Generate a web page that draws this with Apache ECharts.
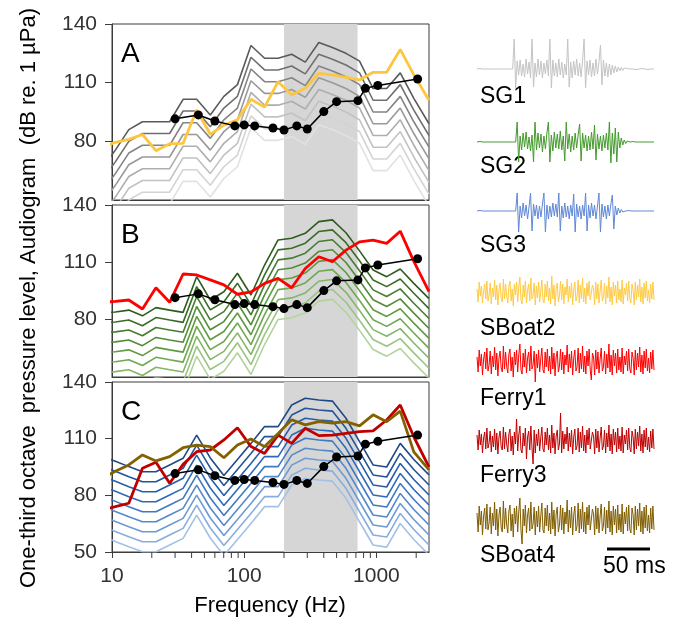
<!DOCTYPE html>
<html><head><meta charset="utf-8">
<script src="https://cdn.jsdelivr.net/npm/echarts@6/dist/echarts.min.js"></script>
<style>html,body{margin:0;padding:0;background:#fff}#c{width:673px;height:629px}</style>
</head><body><div id="c"></div>
<script>
// ---------- DATA ----------
const spectrumFreqs = [8.4, 10.6, 13.4, 17.0, 21.5, 27.3, 34.5, 43.7, 55.4, 70.2, 88.9, 112.5, 142.6, 180.5, 228.7, 289.7, 366.7, 464.7, 588.6, 745.6, 944, 1196, 1515, 1919, 2500];
const audiogramFreqs = [30, 45, 60, 85, 100, 120, 165, 200, 250, 300, 400, 500, 725, 825, 1025, 2050];
const audiogramDb = [91.5, 93.5, 90.4, 87.9, 88.4, 87.9, 86.8, 85.8, 87.9, 86.3, 95.2, 100.3, 100.8, 107.1, 108.6, 111.9];
const shadeBand = [200, 720];
const yTicks = [50, 80, 110, 140];
const xMajorTicks = [10, 100, 1000];
const xMinorTicks = [20, 30, 40, 50, 60, 70, 80, 90, 200, 300, 400, 500, 600, 700, 800, 900, 2000];

// Panel A: SG1 at several ranges (grey), SBoat2 (yellow)
const sg1Spectra = [
  [66, 75.5, 86, 90, 90, 90, 101.5, 101.5, 93.5, 103, 109, 129, 122.5, 122.5, 124.5, 120.5, 130.5, 128, 125, 121, 107, 107, 115, 102, 89],
  [60, 69.5, 80, 84, 84, 84, 95.5, 95.5, 87.5, 97, 103, 123, 116.5, 116.5, 118.5, 114.5, 124.5, 122, 119, 115, 101, 101, 109, 96, 83],
  [54, 63.5, 74, 78, 78, 78, 89.5, 89.5, 81.5, 91, 97, 117, 110.5, 110.5, 112.5, 108.5, 118.5, 116, 113, 109, 95, 95, 103, 90, 77],
  [48, 57.5, 68, 72, 72, 72, 83.5, 83.5, 75.5, 85, 91, 111, 104.5, 104.5, 106.5, 102.5, 112.5, 110, 107, 103, 89, 89, 97, 84, 71],
  [42, 51.5, 62, 66, 66, 66, 77.5, 77.5, 69.5, 79, 85, 105, 98.5, 98.5, 100.5, 96.5, 106.5, 104, 101, 97, 83, 83, 91, 78, 65],
  [36, 45.5, 56, 60, 60, 60, 71.5, 71.5, 63.5, 73, 79, 99, 92.5, 92.5, 94.5, 90.5, 100.5, 98, 95, 91, 77, 77, 85, 72, 59],
  [30, 39.5, 50, 54, 54, 54, 65.5, 65.5, 57.5, 67, 73, 93, 86.5, 86.5, 88.5, 84.5, 94.5, 92, 89, 85, 71, 71, 79, 66, 53],
  [24, 33.5, 44, 48, 48, 48, 59.5, 59.5, 51.5, 61, 67, 87, 80.5, 80.5, 82.5, 78.5, 88.5, 86, 83, 79, 65, 65, 73, 60, 47]
];
const sboat2Spectrum = [77, 79.5, 81, 83.5, 75.2, 78.8, 79, 96, 83.6, 88.3, 91, 101.5, 97.5, 110.5, 103.7, 107.1, 114.8, 114, 112.7, 111.4, 115.3, 115.3, 127, 114, 101];

// Panel B: SG2 (greens), Ferry1 (red)
const sg2Spectra = [
  [83.6, 84, 85, 82, 86.3, 85, 83.8, 102.5, 90.3, 94.6, 104.3, 92.9, 108.6, 121.7, 122.6, 125.2, 131.3, 132.2, 125.5, 116, 106, 102.5, 106.5, 99, 91],
  [78.4, 78.8, 79.8, 76.8, 81.1, 79.8, 78.6, 97.3, 85.1, 89.4, 99.1, 87.7, 103.4, 116.5, 117.4, 120, 126.1, 127, 120.3, 110.8, 100.8, 97.3, 101.3, 93.8, 85.8],
  [73.2, 73.6, 74.6, 71.6, 75.9, 74.6, 73.4, 92.1, 79.9, 84.2, 93.9, 82.5, 98.2, 111.3, 112.2, 114.8, 120.9, 121.8, 115.1, 105.6, 95.6, 92.1, 96.1, 88.6, 80.6],
  [68, 68.4, 69.4, 66.4, 70.7, 69.4, 68.2, 86.9, 74.7, 79, 88.7, 77.3, 93, 106.1, 107, 109.6, 115.7, 116.6, 109.9, 100.4, 90.4, 86.9, 90.9, 83.4, 75.4],
  [62.8, 63.2, 64.2, 61.2, 65.5, 64.2, 63, 81.7, 69.5, 73.8, 83.5, 72.1, 87.8, 100.9, 101.8, 104.4, 110.5, 111.4, 104.7, 95.2, 85.2, 81.7, 85.7, 78.2, 70.2],
  [57.6, 58, 59, 56, 60.3, 59, 57.8, 76.5, 64.3, 68.6, 78.3, 66.9, 82.6, 95.7, 96.6, 99.2, 105.3, 106.2, 99.5, 90, 80, 76.5, 80.5, 73, 65],
  [52.4, 52.8, 53.8, 50.8, 55.1, 53.8, 52.6, 71.3, 59.1, 63.4, 73.1, 61.7, 77.4, 90.5, 91.4, 94, 100.1, 101, 94.3, 84.8, 74.8, 71.3, 75.3, 67.8, 59.8],
  [47.2, 47.6, 48.6, 45.6, 49.9, 48.6, 47.4, 66.1, 53.9, 58.2, 67.9, 56.5, 72.2, 85.3, 86.2, 88.8, 94.9, 95.8, 89.1, 79.6, 69.6, 66.1, 70.1, 62.6, 54.6],
  [42, 42.4, 43.4, 40.4, 44.7, 43.4, 42.2, 60.9, 48.7, 53, 62.7, 51.3, 67, 80.1, 81, 83.6, 89.7, 90.6, 83.9, 74.4, 64.4, 60.9, 64.9, 57.4, 49.4]
];
const ferry1Spectrum = [89, 89.6, 90.3, 85.6, 96.7, 89.1, 103.9, 103.4, 100.8, 98.2, 93.3, 94.5, 99, 101.6, 96.7, 106.8, 112.9, 110.3, 116.4, 120.7, 121.6, 119.9, 126.3, 110.5, 94.7];

// Panel C: SG3 (blues), Ferry3 (dark red), SBoat4 (brown)
const sg3Spectra = [
  [100.8, 98, 95.2, 92.5, 92.5, 96.1, 99.6, 111.9, 99.8, 90.5, 99, 107.5, 116.4, 116.4, 127.8, 131.4, 130.5, 129.9, 120.8, 108.4, 96.1, 95, 107.5, 99, 90.8],
  [95.5, 92.7, 89.9, 87.2, 87.2, 90.8, 94.3, 106.6, 94.5, 85.2, 93.7, 102.2, 111.1, 111.1, 122.5, 126.1, 125.2, 124.6, 115.5, 103.1, 90.8, 89.7, 102.2, 93.7, 85.5],
  [90.2, 87.4, 84.6, 81.9, 81.9, 85.5, 89, 101.3, 89.2, 79.9, 88.4, 96.9, 105.8, 105.8, 117.2, 120.8, 119.9, 119.3, 110.2, 97.8, 85.5, 84.4, 96.9, 88.4, 80.2],
  [84.9, 82.1, 79.3, 76.6, 76.6, 80.2, 83.7, 96, 83.9, 74.6, 83.1, 91.6, 100.5, 100.5, 111.9, 115.5, 114.6, 114, 104.9, 92.5, 80.2, 79.1, 91.6, 83.1, 74.9],
  [79.6, 76.8, 74, 71.3, 71.3, 74.9, 78.4, 90.7, 78.6, 69.3, 77.8, 86.3, 95.2, 95.2, 106.6, 110.2, 109.3, 108.7, 99.6, 87.2, 74.9, 73.8, 86.3, 77.8, 69.6],
  [74.3, 71.5, 68.7, 66, 66, 69.6, 73.1, 85.4, 73.3, 64, 72.5, 81, 89.9, 89.9, 101.3, 104.9, 104, 103.4, 94.3, 81.9, 69.6, 68.5, 81, 72.5, 64.3],
  [69, 66.2, 63.4, 60.7, 60.7, 64.3, 67.8, 80.1, 68, 58.7, 67.2, 75.7, 84.6, 84.6, 96, 99.6, 98.7, 98.1, 89, 76.6, 64.3, 63.2, 75.7, 67.2, 59],
  [63.7, 60.9, 58.1, 55.4, 55.4, 59, 62.5, 74.8, 62.7, 53.4, 61.9, 70.4, 79.3, 79.3, 90.7, 94.3, 93.4, 92.8, 83.7, 71.3, 59, 57.9, 70.4, 61.9, 53.7],
  [58.4, 55.6, 52.8, 50.1, 50.1, 53.7, 57.2, 69.5, 57.4, 48.1, 56.6, 65.1, 74, 74, 85.4, 89, 88.1, 87.5, 78.4, 66, 53.7, 52.6, 65.1, 56.6, 48.4]
];
const ferry3Spectrum = [72.3, 74, 75.8, 94.3, 97.5, 86.4, 96.4, 103.1, 104, 109.3, 115.8, 105.8, 102.2, 111.9, 107.5, 115.5, 111.6, 111.9, 112.8, 113.7, 114.1, 119.9, 127.8, 111, 95];
const sboat4Spectrum = [89, 92.7, 96.1, 101.4, 98.2, 100.5, 105.2, 106.6, 105.8, 99.9, 106.6, 109.8, 105.8, 112.8, 120, 117.3, 119, 118.3, 119, 116.8, 122.6, 119, 124.6, 103, 93.5];

// Waveforms (amplitude in pixel-like units)
const sg1Wave = [0,0,0.5,0,0,-0.5,0,0,0,0.5,0,0,0,-0.5,0,0,0,0.5,0,0,0,-0.5,0,0.5,0,
  30,-19,8,-6,9,-7,5,-8,10,-5,7,-9,
  30,-18,6,-8,10,-6,8,-9,6,-5,9,-7,
  30,-19,9,-7,6,-8,10,-6,7,-9,5,-6,
  30,-18,7,-9,8,-6,10,-7,6,-8,9,
  30,-19,8,-6,9,-8,6,-7,10,-5,7,
  24,-16,9,-7,6,-8,5,-6,4,-4,3,-3,2,-2,1.5,-1.5,1,-1,0.5,
  0,0,0.5,0,0,-0.5,0,0,0,0.5,0,0,0,-0.5,0,0,0,0];
const sg2Wave = [0,0,0.5,0,0,-0.5,0,0,0,0.5,0,0,0,-0.5,0,0,0,0.5,0,0,0,-0.5,0,0.5,0,0,0,
  20,-20,6,-8,9,-5,10,-7,5,-9,7,
  -20,20,-8,9,-6,8,-10,6,-7,9,
  20,-20,7,-9,10,-6,8,-7,11,-8,6,
  -19,20,-7,8,-10,6,-8,9,-6,7,
  18,-19,9,-6,7,-9,6,-8,10,-7,
  17,-18,8,-7,6,-9,7,-6,9,-8,
  20,-21,9,-12,14,-20,
  10,-6,4,-3,2,-1.5,1,-0.5,
  0,0,0.5,0,0,-0.5,0,0,0,0.5,0,0,0,-0.5,0,0,0];
const sg3Wave = [0,0,0.5,0,0,-0.5,0,0,0,0.5,0,0,0,-0.5,0,0,0,0.5,0,0,0,-0.5,0,0.5,0,0,0,
  18,-21,5,-7,8,-5,6,-8,4,
  18,-20,7,-5,6,-8,5,-6,7,
  18,-21,6,-8,5,-6,8,-5,7,-6,
  18,-20,5,-7,8,-6,5,-8,6,-5,
  17,-21,7,-6,5,-8,6,-5,
  18,-20,6,-7,8,-5,6,-8,5,
  18,-21,7,-6,5,-8,6,-5,7,
  16,-18,5,-4,3,-2,1.5,-1,0.5,
  0,0,0.5,0,0,-0.5,0,0,0,0.5,0,0,0,-0.5,0,0,0,0.5,0,0];
const sboat2Wave = [4,-9,11,-3,7,-10,2,9,-6,12,-8,-2,10,-11,5,-4,13,-7,8,-12,3,10,-5,-9,14,-6,9,-3,-10,7,12,-8,4,-13,9,-2,11,-9,6,16,-7,-11,8,-4,12,-10,3,9,-8,15,-6,-2,10,-12,7,-5,11,-9,2,13,-7,-10,9,-4,12,-8,5,-11,17,-6,8,-13,4,10,-9,-3,12,-7,9,-11,6,-2,14,-9,7,-5,10,-12,3,11,-8,-4,13,-10,8,-6,15,-9,5,-11,10,-3,12,-7,-9,8,4,-12,11,-6,9,-10,2,13,-8,-4,10,-11,7,-5,16,-9,6,-12,11,-3,8,-10,12,-7,4,-9,13,-11,5,-2,10,-8,12,-6,-10,9,3,-12,11,-7,8,-4,14,-9,6,-11,10,-5,12,-8,3,-10,9,-6,11,-7];
const ferry1Wave = [5,-10,12,-4,8,-13,3,10,-7,14,-9,-3,11,-12,6,-5,15,-8,9,-14,4,11,-6,-10,16,-7,10,-4,-11,8,13,-9,5,-15,10,-3,12,-10,7,18,-8,-12,9,-5,13,-11,4,10,-9,16,-7,-3,11,-20,8,-6,12,-10,3,14,-8,-11,10,-5,13,-9,6,-12,15,-7,9,-14,5,11,-10,-4,13,-8,10,-12,7,-3,17,-10,8,-6,11,-13,4,12,-9,-5,14,-11,9,-7,16,-10,6,-12,11,-4,13,-8,-18,9,5,-13,12,-7,10,-11,3,14,-9,-5,11,-12,8,-6,18,-10,7,-13,12,-4,9,-11,13,-8,5,-10,14,-12,6,-3,11,-9,13,-7,-11,10,4,-13,12,-8,9,-5,15,-10,7,-12,11,-6,13,-9,4,-11,10,-7,12,-8];
const ferry3Wave = [6,-9,11,-4,7,-12,3,9,-8,13,-7,-2,10,-11,5,-6,12,-9,8,-13,4,10,-6,-9,14,-8,9,-3,-11,7,12,-10,5,-14,9,-3,22,-10,6,15,-9,-12,8,-5,13,-18,4,10,-9,15,-7,-23,11,-12,7,-5,12,-10,3,14,-8,-11,9,-4,13,-9,6,-12,16,-7,8,-13,5,11,-9,-3,28,-12,10,-8,7,-3,14,-10,8,-6,11,-13,4,12,-9,-5,13,-11,9,-7,15,-10,6,-12,11,-4,13,-8,-10,9,5,-13,12,-7,10,-11,3,14,-9,-5,11,-12,8,-6,16,-10,7,-13,12,-4,9,-11,13,-8,5,-10,14,-12,6,-3,11,-9,13,-7,-11,10,4,-13,12,-8,9,-5,15,-10,7,-12,11,-6,13,-9,4,-11,10,-7,12,-8];
const sboat4Wave = [7,-12,14,-5,9,-15,4,12,-9,16,-10,-3,13,-14,7,-6,18,-10,11,-16,5,13,-8,-12,19,-9,12,-5,-13,9,15,-11,6,-17,12,-4,14,-12,8,22,-10,-24,11,-6,15,-13,5,12,-11,18,-9,-4,13,-15,9,-7,14,-12,4,17,-10,-13,12,-6,15,-11,7,-14,18,-9,10,-16,6,13,-12,-5,15,-10,12,-14,8,-4,20,-12,10,-8,13,-15,5,14,-11,-6,17,-13,11,-9,18,-12,8,-14,13,-5,15,-10,-12,11,6,-15,14,-9,12,-13,4,16,-11,-6,13,-14,10,-8,19,-12,9,-15,14,-5,11,-13,15,-10,6,-12,16,-14,8,-4,13,-11,15,-9,-13,12,5,-15,14,-10,11,-6,17,-12,9,-14,13,-8,15,-11,5,-13,12,-9,14,-10];
const waveLabels = ['SG1', 'SG2', 'SG3', 'SBoat2', 'Ferry1', 'Ferry3', 'SBoat4'];

// ---------- STYLE / LAYOUT ----------
const FONT = "'Liberation Sans', Arial, sans-serif";
const grayColors = ['#5a5a5a','#6f6f6f','#848484','#999999','#aeaeae','#c2c2c2','#d3d3d3','#e1e1e1'];
const greenColors = ['#2f5c1e','#3a6c26','#467c2f','#538c38','#609b42','#70a852','#84b668','#9bc482','#b3d39e'];
const blueColors = ['#1f4a86','#23549a','#285ea9','#2f6ab8','#3f79c2','#5589cb','#6c9ad4','#86addd','#a3c0e6'];
const pair = (xs, ys) => ys.map((v, i) => [xs[i], v]);

const panels = [
  {top: 24, height: 176, letter: 'A', bottomAxis: false},
  {top: 205, height: 172, letter: 'B', bottomAxis: false},
  {top: 382, height: 170, letter: 'C', bottomAxis: true}
];
const waveLayout = [
  {center: 69, half: 35, color: '#c4c4c4', labelY: 98},
  {center: 142, half: 30, color: '#449a2c', labelY: 168},
  {center: 211, half: 30, color: '#5f88d6', labelY: 247},
  {center: 293, half: 30, color: '#ffcb45', labelY: 330},
  {center: 362, half: 30, color: '#ff0000', labelY: 400},
  {center: 441, half: 30, color: '#c00000', labelY: 477},
  {center: 520, half: 30, color: '#7f5d00', labelY: 557}
];
const waves = [sg1Wave, sg2Wave, sg3Wave, sboat2Wave, ferry1Wave, ferry3Wave, sboat4Wave];

const grid = [], xAxis = [], yAxis = [], series = [], graphic = [];
const frameColor = '#3c3c3c';

panels.forEach((p, gi) => {
  grid.push({left: 112, top: p.top, width: 317, height: p.height, show: true, borderColor: frameColor, borderWidth: 1, backgroundColor: 'transparent'});
  xAxis.push({
    type: 'log', logBase: 10, gridIndex: gi, min: 10, max: 2500,
    axisLine: {show: true, lineStyle: {color: frameColor, width: 1}},
    axisTick: {show: p.bottomAxis, length: 6, lineStyle: {color: frameColor}},
    axisLabel: {show: p.bottomAxis, fontSize: 21, color: '#333', fontFamily: FONT, margin: 14,
      showMaxLabel: false, formatter: v => xMajorTicks.indexOf(Math.round(v)) >= 0 ? String(Math.round(v)) : ''},
    splitLine: {show: false}, minorTick: {show: false}
  });
  yAxis.push({
    type: 'value', gridIndex: gi, min: yTicks[0], max: yTicks[yTicks.length - 1], interval: 30,
    axisLine: {show: true, lineStyle: {color: frameColor, width: 1}},
    axisTick: {show: true, length: 7, lineStyle: {color: frameColor}},
    axisLabel: {fontSize: 21, color: '#333', fontFamily: FONT, margin: 15, showMinLabel: p.bottomAxis},
    splitLine: {show: false}
  });
  series.push({type: 'line', xAxisIndex: gi, yAxisIndex: gi, data: [], z: 1, silent: true,
    markArea: {silent: true, itemStyle: {color: '#d6d6d6'}, data: [[{xAxis: shadeBand[0]}, {xAxis: shadeBand[1]}]]}});
  graphic.push({type: 'text', left: 121, top: p.top + 16, style: {text: p.letter, font: '28px ' + FONT, fill: '#000'}});
});

function specLine(gi, vals, color, width, z) {
  return {type: 'line', xAxisIndex: gi, yAxisIndex: gi, data: pair(spectrumFreqs, vals), symbol: 'none',
    lineStyle: {color: color, width: width}, z: z, silent: true, animation: false};
}
for (let k = sg1Spectra.length - 1; k >= 0; k--) series.push(specLine(0, sg1Spectra[k], grayColors[k], 1.6, 2));
series.push(specLine(0, sboat2Spectrum, '#fdc63f', 2.8, 3));
for (let k = sg2Spectra.length - 1; k >= 0; k--) series.push(specLine(1, sg2Spectra[k], greenColors[k], 1.6, 2));
series.push(specLine(1, ferry1Spectrum, '#ff0000', 2.8, 3));
for (let k = sg3Spectra.length - 1; k >= 0; k--) series.push(specLine(2, sg3Spectra[k], blueColors[k], 1.6, 2));
series.push(specLine(2, ferry3Spectrum, '#c00000', 2.8, 3));
series.push(specLine(2, sboat4Spectrum, '#846100', 2.8, 3));

[0, 1, 2].forEach(gi => {
  series.push({type: 'line', xAxisIndex: gi, yAxisIndex: gi, data: pair(audiogramFreqs, audiogramDb),
    symbol: 'circle', symbolSize: 9, showSymbol: true, itemStyle: {color: '#000'},
    lineStyle: {color: '#000', width: 1.5}, z: 5, silent: true});
});

series.push({type: 'custom', xAxisIndex: 2, yAxisIndex: 2, data: xMinorTicks.map(f => [f, yTicks[0]]), silent: true, z: 6,
  renderItem: (params, api) => {
    const pt = api.coord([api.value(0), api.value(1)]);
    return {type: 'line', shape: {x1: pt[0], y1: pt[1], x2: pt[0], y2: pt[1] + 6}, style: {stroke: frameColor, lineWidth: 1}};
  }});

waves.forEach((w, i) => {
  const gi = 3 + i, L = waveLayout[i];
  grid.push({left: 477, width: 177, top: L.center - L.half, height: 2 * L.half, show: false});
  xAxis.push({type: 'value', gridIndex: gi, min: 0, max: w.length - 1, show: false});
  yAxis.push({type: 'value', gridIndex: gi, min: -L.half, max: L.half, show: false});
  series.push({type: 'line', xAxisIndex: gi, yAxisIndex: gi, data: w.map((v, j) => [j, v]), symbol: 'none',
    lineStyle: {color: L.color, width: 1}, silent: true, clip: false});
  graphic.push({type: 'text', left: 480, top: L.labelY - 13, style: {text: waveLabels[i], font: '23px ' + FONT, fill: '#000'}});
});

graphic.push({type: 'line', shape: {x1: 607, y1: 549, x2: 650, y2: 549}, style: {stroke: '#000', lineWidth: 3}});
graphic.push({type: 'text', left: 603, top: 555, style: {text: '50 ms', font: '23px ' + FONT, fill: '#000'}});
graphic.push({type: 'text', x: 29, y: 298, rotation: Math.PI / 2,
  style: {text: 'One-third octave  pressure level, Audiogram  (dB re. 1 µPa)', font: '22px ' + FONT, fill: '#000',
    align: 'center', verticalAlign: 'middle', textAlign: 'center', textVerticalAlign: 'middle'}});
graphic.push({type: 'text', x: 270, y: 606,
  style: {text: 'Frequency (Hz)', font: '22px ' + FONT, fill: '#000',
    align: 'center', verticalAlign: 'middle', textAlign: 'center', textVerticalAlign: 'middle'}});

const chart = echarts.init(document.getElementById('c'), null, {renderer: 'canvas'});
chart.setOption({animation: false, backgroundColor: '#fff', grid, xAxis, yAxis, series, graphic});
</script>
</body></html>
